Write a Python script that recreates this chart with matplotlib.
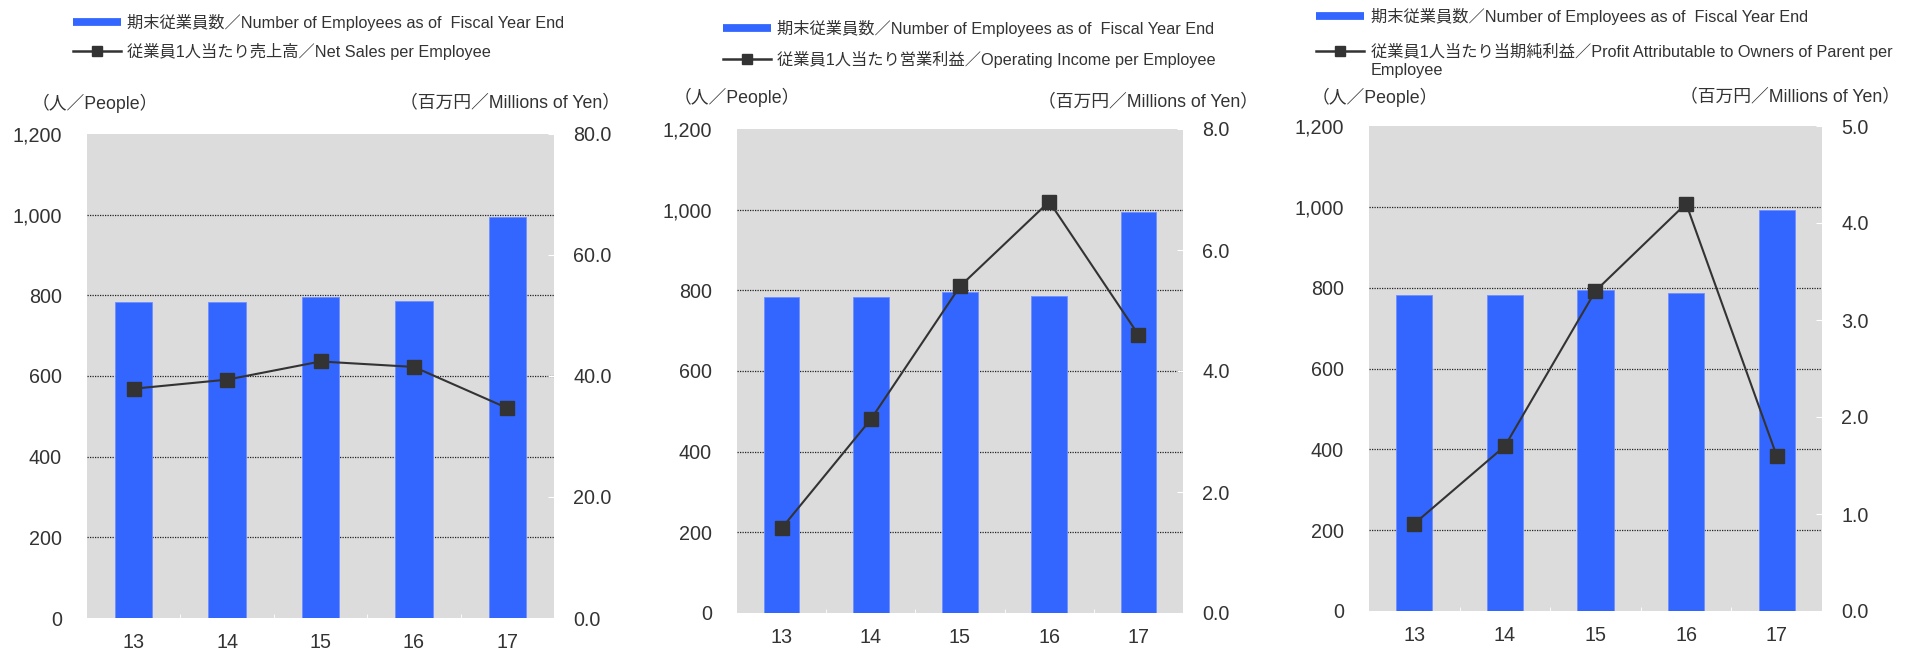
import matplotlib
matplotlib.use('Agg')
import matplotlib.pyplot as plt
from matplotlib.lines import Line2D

plt.rcParams['font.family'] = ['Liberation Sans', 'Noto Sans CJK JP']

# data
years = ['13', '14', '15', '16', '17']
employees = [783, 783, 795, 786, 993]
net_sales_per_emp = [37.9, 39.4, 42.4, 41.5, 34.7]
op_income_per_emp = [1.4, 3.2, 5.4, 6.8, 4.6]
profit_per_emp = [0.9, 1.7, 3.3, 4.2, 1.6]

bar_label = '期末従業員数／Number of Employees as of  Fiscal Year End'
left_unit = '（人／People）'
right_unit = '（百万円／Millions of Yen）'

BLUE = '#3366FF'
DARK = '#333333'
TEXT = '#333333'
W, H = 1906, 652
LEG_FS = 11.7
UNIT_FS = 12.8
TICK_FS = 14.2


def fx(x):
    return x / W


def fy(y):
    return 1 - y / H


def legend_rows(fig, x, x_text, rows, texts):
    # rows: y positions (px) of the legend entries
    fig.add_artist(Line2D([fx(x), fx(x + 48)], [fy(rows[0])] * 2, color=BLUE,
                          lw=5.6, solid_capstyle='butt'))
    fig.add_artist(Line2D([fx(x), fx(x + 48)], [fy(rows[1])] * 2, color=DARK, lw=1.8))
    fig.add_artist(Line2D([fx(x + 24)], [fy(rows[1])], color=DARK, marker='s',
                          ms=6.5, lw=0))
    for t, y in zip(texts, rows):
        fig.text(fx(x_text), fy(y), t, fontsize=LEG_FS, color=TEXT, va='center', ha='left')


def draw_panel(fig, box, line_vals, rmax, rstep):
    left, top, right, bottom = box
    ax = fig.add_axes([fx(left), fy(bottom), (right - left) / W, (bottom - top) / H])
    x = list(range(len(years)))
    ax.set_facecolor('#DCDCDC')
    ax.bar(x, employees, width=0.4, color=BLUE, edgecolor='#6f8fff', lw=0.6, zorder=2)
    for v in range(200, 1200, 200):
        ax.axhline(v, color='#222222', lw=0.9, ls=(0, (1, 1)), zorder=1)
    ax.set_xlim(-0.5, 4.5)
    ax.set_ylim(0, 1200)
    ax.set_yticks(range(0, 1201, 200))
    ax.set_yticklabels([f'{v:,}' for v in range(0, 1201, 200)])
    ax.set_xticks(x)
    ax.set_xticklabels(years)
    ax.set_xticks([0.5, 1.5, 2.5, 3.5], minor=True)
    ax.tick_params(axis='y', length=0, pad=18, labelsize=TICK_FS, labelcolor=TEXT)
    ax.tick_params(axis='x', which='major', length=0, pad=11, labelsize=TICK_FS, labelcolor=TEXT)
    ax.tick_params(axis='x', which='minor', direction='in', color='white', length=3)
    for s in ax.spines.values():
        s.set_visible(False)

    ax2 = ax.twinx()
    ax2.plot(x, line_vals, color=DARK, lw=1.5, marker='s', ms=9.8, zorder=3)
    ax2.set_ylim(0, rmax)
    ticks = [i * rstep for i in range(int(round(rmax / rstep)) + 1)]
    ax2.set_yticks(ticks)
    ax2.set_yticklabels([f'{t:.1f}' for t in ticks])
    ax2.tick_params(axis='y', direction='in', color='white', length=4, pad=14,
                    labelsize=TICK_FS, labelcolor=TEXT)
    for s in ax2.spines.values():
        s.set_visible(False)
    return ax, ax2


fig = plt.figure(figsize=(19.06, 6.52), dpi=100)

# panel 1: net sales
draw_panel(fig, (87, 134, 554, 618), net_sales_per_emp, 80, 20)
legend_rows(fig, 73, 127, (22, 51), [bar_label, '従業員1人当たり売上高／Net Sales per Employee'])
fig.text(fx(32), fy(103), left_unit, fontsize=UNIT_FS, color=TEXT, ha='left', va='center')
fig.text(fx(620), fy(103), right_unit, fontsize=UNIT_FS, color=TEXT, ha='right', va='center')

# panel 2: operating income
draw_panel(fig, (737, 129, 1183, 613), op_income_per_emp, 8, 2)
legend_rows(fig, 723, 777, (28, 59), [bar_label, '従業員1人当たり営業利益／Operating Income per Employee'])
fig.text(fx(674), fy(97), left_unit, fontsize=UNIT_FS, color=TEXT, ha='left', va='center')
fig.text(fx(1258), fy(102), right_unit, fontsize=UNIT_FS, color=TEXT, ha='right', va='center')

# panel 3: profit attributable to owners of parent
draw_panel(fig, (1369, 126, 1822, 611), profit_per_emp, 5, 1)
legend_rows(fig, 1316, 1371, (16, 51, 70), [bar_label,
                                           '従業員1人当たり当期純利益／Profit Attributable to Owners of Parent per',
                                           'Employee'])
fig.text(fx(1312), fy(97), left_unit, fontsize=UNIT_FS, color=TEXT, ha='left', va='center')
fig.text(fx(1900), fy(97), right_unit, fontsize=UNIT_FS, color=TEXT, ha='right', va='center')

fig.savefig('out.png', dpi=100)
